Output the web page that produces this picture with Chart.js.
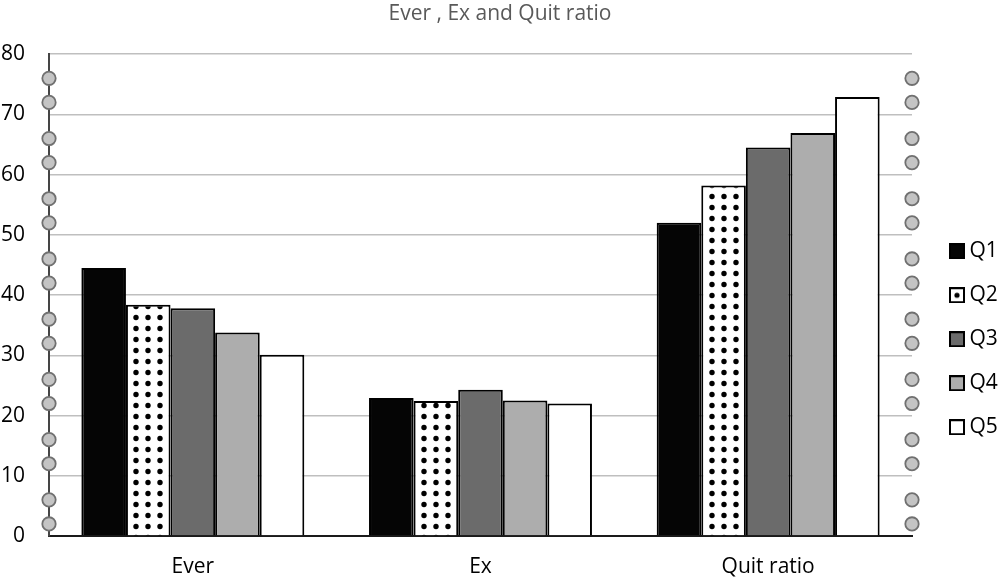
<!DOCTYPE html>
<html><head><meta charset="utf-8">
<script src="https://cdn.jsdelivr.net/npm/chart.js@4.4.1/dist/chart.umd.min.js"></script>
<style>html,body{margin:0;padding:0;background:#fff}#wrap{width:1000px;height:579px}</style>
</head><body><div id="wrap"><canvas id="c" width="1000" height="579"></canvas></div>
<script>
const categories = ['Ever', 'Ex', 'Quit ratio'];
const seriesNames = ['Q1', 'Q2', 'Q3', 'Q4', 'Q5'];
const q1 = [44.5, 22.9, 52.0];
const q2 = [38.4, 22.4, 58.2];
const q3 = [37.8, 24.3, 64.5];
const q4 = [33.8, 22.5, 66.9];
const q5 = [30.1, 22.0, 72.9];
const yMin = 0, yMax = 80, yStep = 10;
const ringValues = [2, 6, 12, 16, 22, 26, 32, 36, 42, 46, 52, 56, 62, 66, 72, 76];

const canvas = document.getElementById('c');
const ctx = canvas.getContext('2d');

function makeDotPattern() {
  const t = document.createElement('canvas');
  t.width = 12; t.height = 11;
  const g = t.getContext('2d');
  g.fillStyle = '#fff'; g.fillRect(0, 0, 12, 11);
  g.fillStyle = '#000'; g.beginPath(); g.arc(6, 5.5, 2.7, 0, Math.PI * 2); g.fill();
  const p = ctx.createPattern(t, 'repeat');
  try { p.setTransform(new DOMMatrix().translate(-2, 4)); } catch (e) {}
  return p;
}
function legendIcon(fill, dot) {
  const c = document.createElement('canvas');
  c.width = 16; c.height = 16;
  const g = c.getContext('2d');
  g.fillStyle = fill; g.fillRect(1, 1, 14, 14);
  g.lineWidth = 2; g.strokeStyle = '#000'; g.strokeRect(1, 1, 14, 14);
  if (dot) { g.fillStyle = '#000'; g.beginPath(); g.arc(8, 8, 2.6, 0, Math.PI * 2); g.fill(); }
  return c;
}

const dotPattern = makeDotPattern();
const seriesValues = [q1, q2, q3, q4, q5];
const fills = ['#050505', dotPattern, '#6b6b6b', '#adadad', '#ffffff'];
const icons = [legendIcon('#050505'), legendIcon('#ffffff', true), legendIcon('#6b6b6b'), legendIcon('#adadad'), legendIcon('#ffffff')];

const ringsPlugin = {
  id: 'rings',
  afterDraw(chart) {
    const { ctx, chartArea, scales } = chart;
    const y = scales.y;
    ctx.save();
    ctx.lineWidth = 1.8;
    ctx.strokeStyle = '#707070';
    ctx.fillStyle = '#c4c4c4';
    for (const x of [chartArea.left, chartArea.right]) {
      for (const v of ringValues) {
        const py = y.getPixelForValue(v);
        ctx.beginPath(); ctx.arc(x, py, 6.7, 0, Math.PI * 2); ctx.fill(); ctx.stroke();
      }
    }
    ctx.restore();
  }
};

const FONT = 'Open Sans';
new Chart(ctx, {
  type: 'bar',
  data: {
    labels: categories,
    datasets: seriesNames.map((n, i) => ({
      label: n, data: seriesValues[i], backgroundColor: fills[i],
      borderColor: '#000', borderWidth: 2, yAxisID: 'y', xAxisID: 'x'
    }))
  },
  options: {
    responsive: false, animation: false, devicePixelRatio: 1,
    layout: { padding: 0 },
    datasets: { bar: { categoryPercentage: 0.775, barPercentage: 1 } },
    scales: {
      x: {
        grid: { display: false, drawTicks: false },
        border: { color: '#1a1a1a', width: 2 },
        ticks: { color: '#000', font: { family: FONT, size: 21 }, padding: 18 },
        afterFit(s) { s.height = 43; }
      },
      y: {
        min: yMin, max: yMax,
        ticks: { stepSize: yStep, color: '#000', font: { family: FONT, size: 21 }, padding: 24 },
        grid: { color: '#bfbfbf', lineWidth: 1.5, drawTicks: false },
        border: { color: '#454545', width: 2 },
        afterFit(s) { s.width = 49; }
      },
      yR: {
        position: 'right', display: true,
        grid: { display: false, drawTicks: false },
        ticks: { display: false },
        border: { display: false },
        afterFit(s) { s.width = 20; }
      }
    },
    plugins: {
      title: {
        display: true, text: 'Ever , Ex and Quit ratio', color: '#595959',
        font: { family: FONT, size: 21, weight: 'normal' }, padding: { top: 1, bottom: 28 }
      },
      legend: {
        position: 'right', maxWidth: 68,
        title: { display: true, text: ' ', font: { size: 12 }, padding: { top: 85, bottom: 0 } },
        labels: {
          font: { family: FONT, size: 21 }, color: '#000',
          usePointStyle: true, boxWidth: 4, boxHeight: 15, padding: 23,
          generateLabels(chart) {
            return chart.data.datasets.map((d, i) => ({
              text: d.label, pointStyle: icons[i], fillStyle: '#000', strokeStyle: '#000',
              lineWidth: 0, hidden: false, datasetIndex: i, fontColor: '#000'
            }));
          }
        }
      },
      tooltip: { enabled: false }
    }
  },
  plugins: [ringsPlugin]
});
</script></body></html>
